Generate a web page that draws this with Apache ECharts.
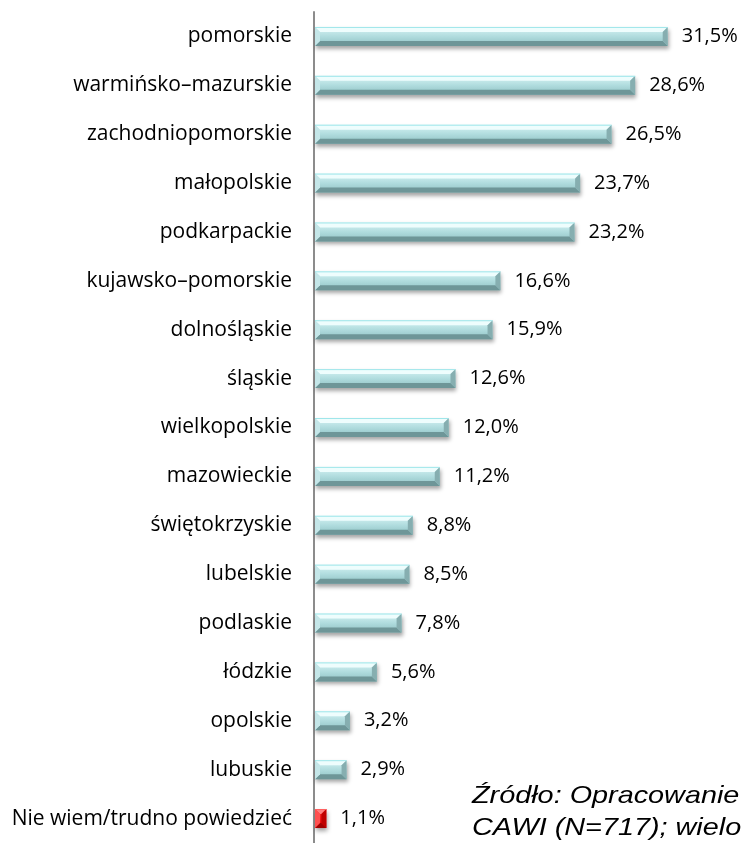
<!DOCTYPE html>
<html>
<head>
<meta charset="utf-8">
<script src="https://cdn.jsdelivr.net/npm/echarts@6/dist/echarts.min.js"></script>
<style>
html,body{margin:0;padding:0;background:#fff;}
#chart{width:743px;height:843px;}
</style>
</head>
<body>
<div id="chart"></div>
<script>
const categories = ['pomorskie','warmińsko–mazurskie','zachodniopomorskie','małopolskie','podkarpackie','kujawsko–pomorskie','dolnośląskie','śląskie','wielkopolskie','mazowieckie','świętokrzyskie','lubelskie','podlaskie','łódzkie','opolskie','lubuskie','Nie wiem/trudno powiedzieć'];
const values = [31.5,28.6,26.5,23.7,23.2,16.6,15.9,12.6,12.0,11.2,8.8,8.5,7.8,5.6,3.2,2.9,1.1];
const sourceLines = ['Źródło: Opracowanie','CAWI (N=717); wielo'];

const palettes = {
  teal:{face:{type:'linear',x:0,y:0,x2:0,y2:1,colorStops:[{offset:0,color:'#d8f4f5'},{offset:0.5,color:'#b0dcde'},{offset:1,color:'#8fc0c2'}]},
        top:'#eefdfd', bottom:'#6e9698', left:'#c4e6e8', right:'#86aeb0', edge:'#9fe6ea'},
  red:{face:{type:'linear',x:0,y:0,x2:0,y2:1,colorStops:[{offset:0,color:'#ff3030'},{offset:1,color:'#e00000'}]},
        top:'#ff8080', bottom:'#a00000', left:'#ff5050', right:'#c00000', edge:'#ff6060'}
};
const barH = 19, bev = 5;

function renderBevel(params, api){
  const idx = api.value(1);
  const v = api.value(0);
  const p0 = api.coord([0, idx]);
  const p1 = api.coord([v, idx]);
  const x0 = p0[0]+1, x1 = p1[0], y0 = p0[1]-barH/2, y1 = p0[1]+barH/2;
  const pal = idx === values.length-1 ? palettes.red : palettes.teal;
  const b = Math.min(bev, (x1-x0)/2);
  return {type:'group', children:[
    {type:'rect', shape:{x:x0, y:y0, width:x1-x0, height:barH},
     style:{fill:pal.face, shadowColor:'rgba(0,0,0,0.35)', shadowBlur:4, shadowOffsetY:3, shadowOffsetX:1}},
    {type:'polygon', shape:{points:[[x0,y0],[x1,y0],[x1-b,y0+b],[x0+b,y0+b]]}, style:{fill:pal.top}},
    {type:'polygon', shape:{points:[[x0,y1],[x1,y1],[x1-b,y1-b],[x0+b,y1-b]]}, style:{fill:pal.bottom}},
    {type:'polygon', shape:{points:[[x1,y0],[x1,y1],[x1-b,y1-b],[x1-b,y0+b]]}, style:{fill:pal.right}},
    {type:'polygon', shape:{points:[[x0,y0],[x0,y1],[x0+b,y1-b],[x0+b,y0+b]]}, style:{fill:pal.left}},
    {type:'line', shape:{x1:x0, y1:y0+0.5, x2:x1, y2:y0+0.5}, style:{stroke:pal.edge, lineWidth:1}}
  ]};
}

const chart = echarts.init(document.getElementById('chart'));
chart.setOption({
  animation:false,
  grid:{left:314, top:12, width:393, height:835, containLabel:false},
  xAxis:{type:'value', min:0, max:35, show:false},
  yAxis:{type:'category', data:categories, inverse:true,
    axisLine:{lineStyle:{color:'#8c8c8c', width:2}},
    axisTick:{length:8, lineStyle:{color:'#8c8c8c', width:2}},
    axisLabel:{color:'#000', fontFamily:'Open Sans', fontSize:21, margin:22}},
  series:[{
    type:'bar', barWidth:barH, z:1,
    data: values,
    itemStyle:{color:'rgba(0,0,0,0)'},
    label:{show:true, position:'right', distance:14, color:'#000', fontFamily:'Open Sans', fontSize:20,
      formatter:p=>p.value.toFixed(1).replace('.',',')+'%'}
  },{
    type:'custom', z:2,
    renderItem: renderBevel,
    encode:{x:0, y:1},
    data: values.map((v,i)=>[v,i])
  }],
  graphic: sourceLines.map((t,i)=>({type:'text', x:472, y:796+i*32, scaleX:1.2,
    style:{text:t, x:0, y:0, verticalAlign:'middle', fontFamily:'Liberation Sans', fontStyle:'italic', fontSize:24, fill:'#000'}}))
});
</script>
</body>
</html>
